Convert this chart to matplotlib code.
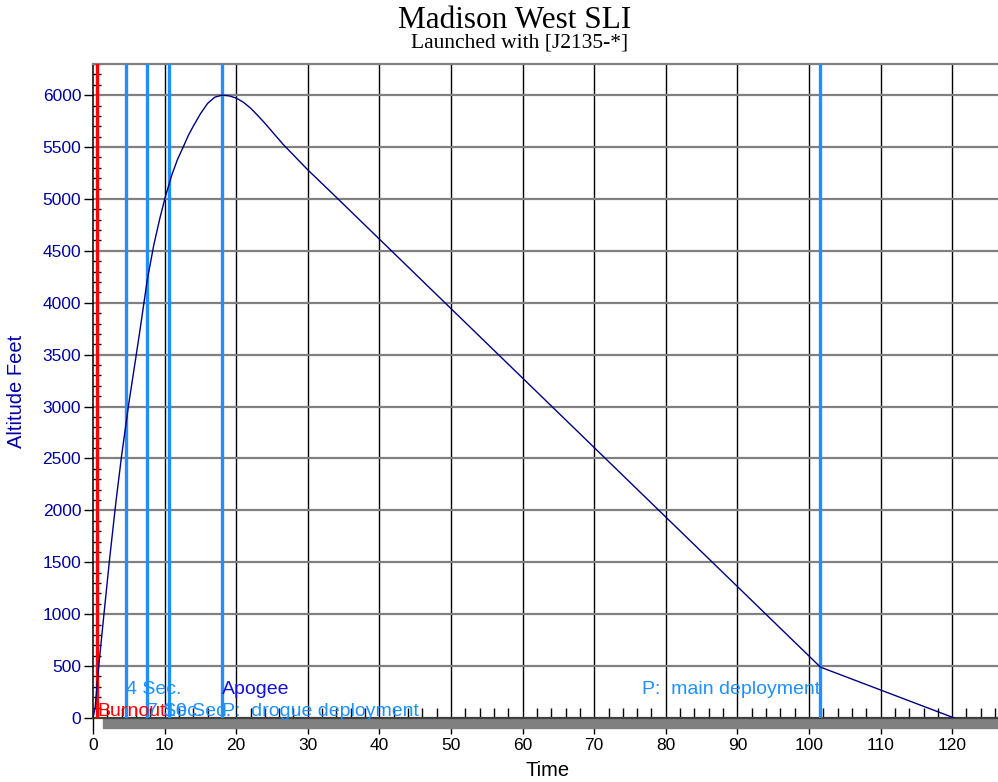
import matplotlib
matplotlib.use("Agg")
import matplotlib.pyplot as plt
from matplotlib.patches import Rectangle
from matplotlib.ticker import MultipleLocator

# flight profile
time_s = [0, 0.3, 0.7, 1.5, 2.3, 3.2, 4, 5, 6, 6.57, 7.58, 8.5, 9.36, 10.06, 11, 11.8,
          12.6, 13.3, 14, 15, 16, 17, 18, 19, 20, 21, 22, 23, 24, 25, 26.5, 30, 33.1,
          101.6, 120.3]
alt_ft = [0, 100, 430, 980, 1520, 2080, 2530, 3030, 3480, 3740, 4220, 4560, 4820, 5010,
          5230, 5380, 5500, 5610, 5700, 5820, 5920, 5980, 6000, 5993, 5972, 5932, 5875,
          5805, 5730, 5650, 5530, 5280, 5075, 490, 0]

# events
burnout_t = 0.6
event_t = [4.6, 7.5, 10.6, 18.0, 101.6]
event_lbl = ["4 Sec.", "7 Sec.", "10 Sec.", "P:  drogue deployment", "P:  main deployment"]
apogee_t = 18.0

plt.rcParams['font.family'] = ['Liberation Sans', 'DejaVu Sans']

fig = plt.figure(figsize=(9.98, 7.82), dpi=100)
ax = fig.add_axes([93/998, 1 - 718/782, 905/998, (718-64)/782])

ax.set_xlim(0, 126.4)
ax.set_ylim(0, 6300)

# grid
for x in range(10, 130, 10):
    ax.axvline(x, color='black', lw=1.0, zorder=1)
for y in range(500, 6500, 500):
    ax.axhline(y, color='#808080', lw=1.6, zorder=1)

ax.plot(time_s, alt_ft, color='#000080', lw=1.0, zorder=4)

blue = '#1E90FF'
ax.axvline(burnout_t, color='red', lw=2.4, zorder=3)
for t in event_t:
    ax.axvline(t, color=blue, lw=2.4, zorder=3)

fs = 14
lo, hi = 20, 232
ax.text(burnout_t, lo, "Burnout", color='red', fontsize=fs, zorder=5)
ax.text(event_t[0], hi, event_lbl[0], color=blue, fontsize=fs, zorder=5)
ax.text(event_t[1], lo, event_lbl[1], color=blue, fontsize=fs, zorder=5)
ax.text(event_t[2] - 0.6, lo, event_lbl[2], color=blue, fontsize=fs, zorder=5)
ax.text(event_t[3], lo, event_lbl[3], color=blue, fontsize=fs, zorder=5)
ax.text(apogee_t, hi, "Apogee", color='#1010E0', fontsize=fs, zorder=5)
ax.text(event_t[4], hi, event_lbl[4], color=blue, fontsize=fs, ha='right', zorder=5)

# gray bar under the axis
ax.add_patch(Rectangle((1.4, -96), 125, 96, color='#808080', clip_on=False, zorder=2))

ax.xaxis.set_major_locator(MultipleLocator(10))
ax.xaxis.set_minor_locator(MultipleLocator(2))
ax.yaxis.set_major_locator(MultipleLocator(500))
ax.yaxis.set_minor_locator(MultipleLocator(100))
ax.tick_params(axis='x', which='major', direction='out', length=11.5, width=1,
               labelsize=12.5, colors='black', pad=3)
ax.tick_params(axis='x', which='minor', direction='in', length=7, width=1)
ax.tick_params(axis='y', which='major', direction='out', length=6.5, width=1,
               labelsize=12.5, labelcolor='#0000A0', pad=2)
ax.tick_params(axis='y', which='minor', direction='in', length=6, width=1)

ax.spines['right'].set_visible(False)
ax.spines['top'].set_color('#808080')
ax.spines['top'].set_linewidth(1.6)
ax.spines['left'].set_linewidth(1.1)
ax.spines['bottom'].set_linewidth(1.6)
ax.spines['bottom'].set_color('#404040')

ax.set_xlabel("Time", fontsize=14.5, labelpad=0)
ax.set_ylabel("Altitude Feet", fontsize=14.5, color='#0000A0', labelpad=8)
ax.xaxis.set_label_coords(548/998 * 998 / 905 - 93/905, -(771 - 718) / 654, transform=ax.transAxes)
ax.xaxis.label.set_va('center')
ax.yaxis.set_label_coords(-(93 - 17) / 905, 0.5)
ax.yaxis.label.set_va('center')

fig.text(515/998, 1 - 20/782, "Madison West SLI", ha='center', va='center',
         fontsize=22.5, family='Liberation Serif')
fig.text(520/998, 1 - 43/782, "Launched with [J2135-*]", ha='center', va='center',
         fontsize=15.5, family='Liberation Serif')

fig.savefig("out.png", dpi=100)
